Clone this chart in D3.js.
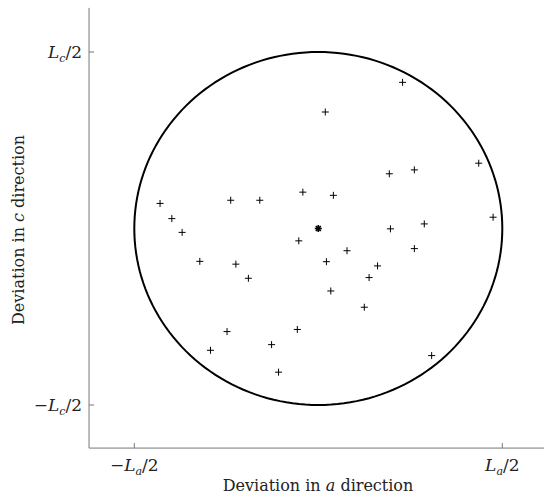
<!DOCTYPE html>
<html>
<head>
<meta charset="utf-8">
<script src="https://cdn.jsdelivr.net/npm/d3@7"></script>
<style>
  body { margin: 0; background: #fff; }
  text { font-family: "DejaVu Serif", serif; fill: #222; }
</style>
</head>
<body>
<script>
// deviations in units of the box size (La, Lc)
var devA = [0.019, 0.229, -0.042, -0.238, -0.159, -0.430, -0.398, -0.370, 0.436, 0.261,
            0.193, 0.041, 0.475, 0.196, 0.288, -0.053, -0.322, -0.224, -0.190, 0.022,
            -0.248, -0.057, -0.293, -0.127, -0.108, 0.078, 0.261, 0.161, 0.138, 0.034,
            0.125, 0.308];
var devC = [0.330, 0.414, 0.103, 0.080, 0.080, 0.071, 0.028, -0.011, 0.185, 0.166,
            0.155, 0.094, 0.032, -0.001, 0.013, -0.035, -0.093, -0.101, -0.141, -0.094,
            -0.292, -0.286, -0.345, -0.329, -0.407, -0.063, -0.057, -0.106, -0.139, -0.177,
            -0.223, -0.360];
var centre = [0, 0];
var radius = 0.5;
var xTicks = [-0.5, 0.5], xTickLabels = [["−", "a"], ["", "a"]];
var yTicks = [-0.5, 0.5], yTickLabels = [["−", "c"], ["", "c"]];

var width = 544, height = 497;
var svg = d3.select("body").append("svg")
    .attr("width", width).attr("height", height);

var x = d3.scaleLinear().domain([-0.5, 0.5]).range([134.3, 502.3]);
var y = d3.scaleLinear().domain([-0.5, 0.5]).range([405, 52]);
var x0 = x(-0.623), y0 = y(-0.622), yTop = y(0.625);

// circle of allowed deviation
var circ = d3.range(0, 361, 2).map(function(t) {
  var a = t * Math.PI / 180;
  return [centre[0] + radius * Math.cos(a), centre[1] + radius * Math.sin(a)];
});
svg.append("path")
    .datum(circ)
    .attr("d", d3.line().x(function(d) { return x(d[0]); }).y(function(d) { return y(d[1]); }))
    .attr("fill", "none").attr("stroke", "#000").attr("stroke-width", 2);

// points
var pts = devA.map(function(a, i) { return [a, devC[i]]; });
svg.append("g").selectAll("path").data(pts).enter().append("path")
    .attr("transform", function(d) { return "translate(" + x(d[0]) + "," + y(d[1]) + ")"; })
    .attr("d", "M-3.5,0H3.5M0,-3.5V3.5")
    .attr("stroke", "#000").attr("stroke-width", 1).attr("fill", "none");

svg.append("path")
    .attr("transform", "translate(" + x(centre[0]) + "," + y(centre[1]) + ")")
    .attr("d", "M-3.5,0H3.5M0,-3.5V3.5M-2.5,-2.5L2.5,2.5M-2.5,2.5L2.5,-2.5")
    .attr("stroke", "#000").attr("stroke-width", 1.6);

// axes
var axisColor = "#777";
svg.append("line").attr("x1", x0).attr("x2", width).attr("y1", y0).attr("y2", y0)
    .attr("stroke", axisColor);
svg.append("line").attr("x1", x0).attr("x2", x0).attr("y1", y0).attr("y2", yTop)
    .attr("stroke", axisColor);

function tickLabel(sel, lab) {
  sel.append("tspan").text(lab[0]);
  sel.append("tspan").style("font-style", "italic").text("L");
  sel.append("tspan").attr("dy", 4).style("font-size", "11px").style("font-style", "italic").text(lab[1]);
  sel.append("tspan").attr("dy", -4).text("/2");
}

xTicks.forEach(function(t, i) {
  svg.append("line").attr("x1", x(t)).attr("x2", x(t)).attr("y1", y0).attr("y2", y0 - 5)
      .attr("stroke", axisColor);
  var tx = svg.append("text").attr("x", x(t)).attr("y", y0 + 23)
      .attr("text-anchor", "middle").style("font-size", "17px");
  tickLabel(tx, xTickLabels[i]);
});

yTicks.forEach(function(t, i) {
  svg.append("line").attr("x1", x0).attr("x2", x0 + 5).attr("y1", y(t)).attr("y2", y(t))
      .attr("stroke", axisColor);
  var tx = svg.append("text").attr("x", x0 - 7).attr("y", y(t) + 6)
      .attr("text-anchor", "end").style("font-size", "17px");
  tickLabel(tx, yTickLabels[i]);
});

// axis labels
var xl = svg.append("text").attr("x", 318).attr("y", 491)
    .attr("text-anchor", "middle").style("font-size", "16px");
xl.append("tspan").text("Deviation in ");
xl.append("tspan").style("font-style", "italic").text("a");
xl.append("tspan").text(" direction");

var yl = svg.append("text").attr("transform", "translate(24,230) rotate(-90)")
    .attr("text-anchor", "middle").style("font-size", "16px");
yl.append("tspan").text("Deviation in ");
yl.append("tspan").style("font-style", "italic").text("c");
yl.append("tspan").text(" direction");
</script>
</body>
</html>
